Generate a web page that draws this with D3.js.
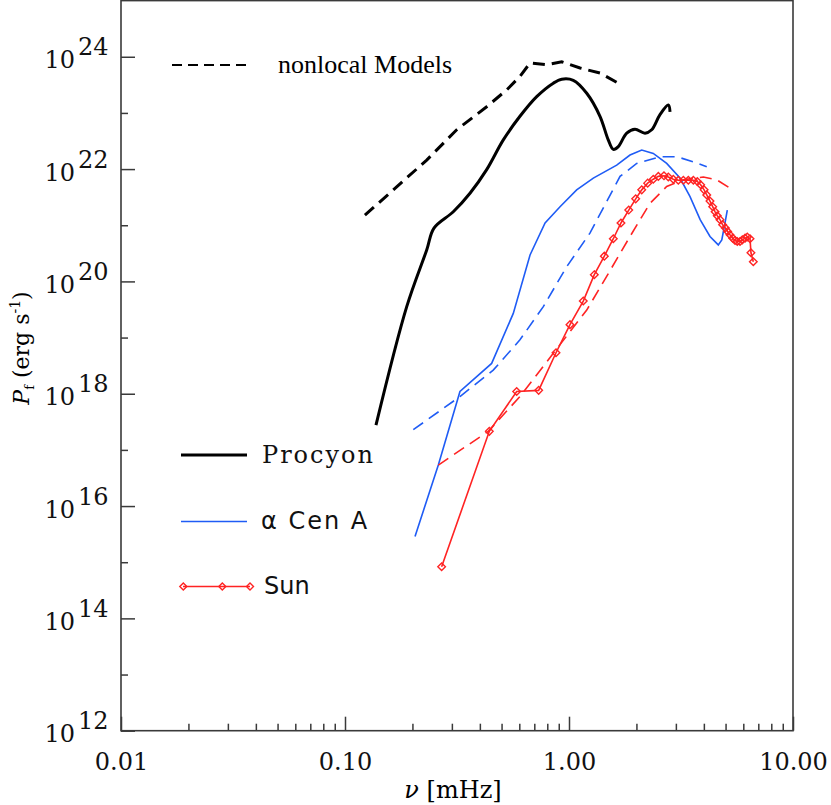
<!DOCTYPE html>
<html>
<head>
<meta charset="utf-8">
<script src="https://cdn.jsdelivr.net/npm/d3@7"></script>
<style>
  body { margin: 0; background: #fff; }
  svg { display: block; }
  .tick-lab { font-family: "DejaVu Serif", serif; font-size: 24px; fill: #111; }
  .leg-lab { font-size: 24px; fill: #111; }
</style>
</head>
<body>
<svg id="chart" width="831" height="805"></svg>
<script>
// ---- data, frequency in mHz, power as log10(erg/s) ----
const procyonNu   = [0.1375, 0.1886, 0.2316, 0.2496, 0.3044, 0.3614, 0.429, 0.509, 0.604, 0.7174, 0.851, 0.928, 1.045, 1.20, 1.375, 1.497, 1.577, 1.66, 1.81, 1.97, 2.184, 2.34, 2.548, 2.776, 2.825];
const procyonLogP = [17.44, 19.55, 20.56, 20.95, 21.24, 21.57, 21.99, 22.52, 22.94, 23.29, 23.53, 23.60, 23.58, 23.35, 22.94, 22.52, 22.35, 22.40, 22.64, 22.71, 22.64, 22.70, 22.97, 23.14, 23.02];

const procyonModNu   = [0.1227, 0.1643, 0.2316, 0.3152, 0.429, 0.527, 0.604, 0.670, 0.795, 0.928, 1.12, 1.375, 1.66];
const procyonModLogP = [21.18, 21.63, 22.16, 22.70, 23.11, 23.41, 23.65, 23.89, 23.86, 23.91, 23.80, 23.71, 23.53];

const cenNu   = [0.2054, 0.261, 0.326, 0.4515, 0.564, 0.670, 0.782, 0.912, 1.082, 1.284, 1.633, 1.872, 2.112, 2.378, 2.73, 3.13, 3.47, 3.85, 4.26, 4.64, 4.81, 4.97, 5.09];
const cenLogP = [15.46, 16.73, 18.04, 18.54, 19.43, 20.47, 21.04, 21.33, 21.63, 21.84, 22.07, 22.25, 22.34, 22.28, 22.10, 21.84, 21.51, 21.10, 20.80, 20.65, 20.74, 21.04, 21.27];

const cenModNu   = [0.2018, 0.326, 0.459, 0.604, 0.768, 0.976, 1.24, 1.69, 2.005, 2.55, 3.03, 3.59, 4.12];
const cenModLogP = [17.36, 17.95, 18.42, 18.96, 19.55, 20.26, 20.86, 21.87, 22.10, 22.22, 22.22, 22.13, 22.04];

const sunModNu   = [0.261, 0.436, 0.604, 0.851, 1.20, 1.473, 1.872, 2.30, 2.73, 3.24, 3.98, 4.56, 5.23];
const sunModLogP = [16.73, 17.33, 17.95, 18.72, 19.49, 20.09, 20.80, 21.39, 21.69, 21.81, 21.86, 21.81, 21.66];

const sunNu   = [0.270, 0.4408, 0.584, 0.732, 0.875, 1.01, 1.158, 1.297, 1.438, 1.577, 1.706, 1.848, 1.985, 2.112, 2.245, 2.378, 2.505, 2.655, 2.776, 2.922, 3.076, 3.24, 3.41, 3.59, 3.74, 3.87, 4.01, 4.12, 4.26, 4.38, 4.49, 4.59, 4.72, 4.85, 4.99, 5.11, 5.23, 5.38, 5.51, 5.64, 5.80, 5.94, 6.11, 6.25, 6.43, 6.49, 6.65];
const sunLogP = [14.92, 17.33, 18.04, 18.06, 18.73, 19.23, 19.65, 20.12, 20.45, 20.76, 21.04, 21.27, 21.47, 21.63, 21.75, 21.82, 21.87, 21.88, 21.86, 21.82, 21.80, 21.80, 21.80, 21.80, 21.78, 21.72, 21.63, 21.54, 21.43, 21.33, 21.24, 21.17, 21.10, 21.01, 20.95, 20.89, 20.83, 20.77, 20.73, 20.71, 20.71, 20.74, 20.77, 20.79, 20.76, 20.51, 20.35];

const xMajor = [0.01, 0.1, 1, 10];
const xMajorLabels = ['0.01', '0.10', '1.00', '10.00'];
const xMinor = [0.02, 0.03, 0.04, 0.05, 0.06, 0.07, 0.08, 0.09, 0.2, 0.3, 0.4, 0.5, 0.6, 0.7, 0.8, 0.9, 2, 3, 4, 5, 6, 7, 8, 9];
const yMajorExp = [12, 14, 16, 18, 20, 22, 24];
const yMinorExp = [13, 15, 17, 19, 21, 23];

const legendNames = ['Procyon', '\u03b1 Cen A', 'Sun'];

// ---- layout ----
const L = 121, R = 793, T = 0.6, B = 730.7;
const svg = d3.select('#chart');
const x = d3.scaleLog().domain([0.01, 10]).range([L, R]);
const y = d3.scaleLog().domain([1e12, 1e25]).range([B, T]);

const BLUE = '#1f5cf5', RED = '#ff2323';
const toPts = (nu, lp) => nu.map((v, i) => [v, Math.pow(10, lp[i])]);
const line = d3.line().x(d => x(d[0])).y(d => y(d[1]));

// axes (ticks point inward)
const axisCol = '#3a3a3a';
const gx = svg.append('g').attr('transform', `translate(0,${B})`);
gx.call(d3.axisBottom(x).tickValues(xMinor).tickSize(-7).tickSizeOuter(0).tickFormat(''));
const gx2 = svg.append('g').attr('transform', `translate(0,${B})`);
gx2.call(d3.axisBottom(x).tickValues(xMajor).tickSize(-14).tickSizeOuter(0).tickPadding(22)
  .tickFormat((d, i) => xMajorLabels[i]));
gx2.selectAll('text').attr('class', 'tick-lab').attr('dy', '0.35em').attr('y', 31);

const gy = svg.append('g').attr('transform', `translate(${L},0)`);
gy.call(d3.axisLeft(y).tickValues(yMinorExp.map(e => Math.pow(10, e))).tickSize(-7).tickSizeOuter(0).tickFormat(''));
const gy2 = svg.append('g').attr('transform', `translate(${L},0)`);
gy2.call(d3.axisLeft(y).tickValues(yMajorExp.map(e => Math.pow(10, e))).tickSize(-14).tickSizeOuter(0).tickFormat(''));
gy2.selectAll('.tick').each(function (d) {
  d3.select(this).append('text').attr('class', 'tick-lab')
    .attr('text-anchor', 'end').attr('x', -46).attr('y', 11).text('10');
  d3.select(this).append('text').attr('class', 'tick-lab')
    .attr('text-anchor', 'start').attr('x', -43).attr('y', -2)
    .text(Math.round(Math.log10(d)));
});
svg.selectAll('.domain').remove();
svg.selectAll('.tick line').attr('stroke', axisCol).attr('stroke-width', 1.5);

svg.append('rect').attr('x', L).attr('y', T).attr('width', R - L).attr('height', B - T)
  .attr('fill', 'none').attr('stroke', axisCol).attr('stroke-width', 1.6);

// axis titles
svg.append('text').attr('x', 453).attr('y', 798).attr('text-anchor', 'middle')
  .style('font-family', '"DejaVu Serif", serif').style('font-size', '24px')
  .html('<tspan font-style="italic">\u03bd</tspan> [mHz]');

const yl = svg.append('text').attr('transform', 'translate(29,348) rotate(-90)')
  .attr('text-anchor', 'middle')
  .style('font-family', '"DejaVu Serif", serif').style('font-size', '22px');
yl.append('tspan').attr('font-style', 'italic').text('P');
yl.append('tspan').attr('font-size', '13px').attr('dy', 5).text('f');
yl.append('tspan').attr('dy', -5).text(' (erg s');
yl.append('tspan').attr('font-size', '14px').attr('dy', -9).text('-1');
yl.append('tspan').attr('dy', 9).text(')');

// curves
const plot = svg.append('g');
plot.append('path').datum(toPts(procyonModNu, procyonModLogP)).attr('d', line)
  .attr('fill', 'none').attr('stroke', '#000').attr('stroke-width', 3).attr('stroke-dasharray', '12,7');
plot.append('path').datum(toPts(procyonNu, procyonLogP)).attr('d', line.curve(d3.curveCatmullRom))
  .attr('fill', 'none').attr('stroke', '#000').attr('stroke-width', 3).attr('stroke-linejoin', 'round');
line.curve(d3.curveLinear);
plot.append('path').datum(toPts(cenModNu, cenModLogP)).attr('d', line)
  .attr('fill', 'none').attr('stroke', BLUE).attr('stroke-width', 1.6).attr('stroke-dasharray', '12,7');
plot.append('path').datum(toPts(cenNu, cenLogP)).attr('d', line)
  .attr('fill', 'none').attr('stroke', BLUE).attr('stroke-width', 1.6);
plot.append('path').datum(toPts(sunModNu, sunModLogP)).attr('d', line)
  .attr('fill', 'none').attr('stroke', RED).attr('stroke-width', 1.6).attr('stroke-dasharray', '12,7');
const sunPts = toPts(sunNu, sunLogP);
plot.append('path').datum(sunPts).attr('d', line)
  .attr('fill', 'none').attr('stroke', RED).attr('stroke-width', 1.6);

const diamond = (cx, cy, r) => `M${cx},${cy - r}L${cx + r},${cy}L${cx},${cy + r}L${cx - r},${cy}Z`;
plot.selectAll('path.dia').data(sunPts).enter().append('path').attr('class', 'dia')
  .attr('d', d => diamond(x(d[0]), y(d[1]), 3.8))
  .attr('fill', 'none').attr('stroke', RED).attr('stroke-width', 1.4);

// legends
const lg = svg.append('g');
lg.append('line').attr('x1', 172).attr('x2', 252).attr('y1', 65).attr('y2', 65)
  .attr('stroke', '#000').attr('stroke-width', 2).attr('stroke-dasharray', '10,6');
lg.append('text').attr('x', 278).attr('y', 73)
  .style('font-family', '"Liberation Serif", serif').style('font-size', '26px').text('nonlocal Models');

lg.append('line').attr('x1', 181).attr('x2', 247).attr('y1', 455).attr('y2', 455)
  .attr('stroke', '#000').attr('stroke-width', 3);
lg.append('text').attr('class', 'leg-lab').attr('x', 262).attr('y', 463)
  .style('font-family', '"DejaVu Serif", serif').style('letter-spacing', '2px').text(legendNames[0]);

lg.append('line').attr('x1', 181).attr('x2', 247).attr('y1', 521.5).attr('y2', 521.5)
  .attr('stroke', BLUE).attr('stroke-width', 1.6);
lg.append('text').attr('class', 'leg-lab').attr('x', 261).attr('y', 529)
  .style('font-family', '"DejaVu Sans", sans-serif').style('letter-spacing', '2px').text(legendNames[1]);

lg.append('line').attr('x1', 183).attr('x2', 250).attr('y1', 586.5).attr('y2', 586.5)
  .attr('stroke', RED).attr('stroke-width', 1.6);
[183.3, 222.3, 250].forEach(cx => {
  lg.append('path').attr('d', diamond(cx, 586.5, 3.5)).attr('fill', 'none')
    .attr('stroke', RED).attr('stroke-width', 1.4);
});
lg.append('text').attr('class', 'leg-lab').attr('x', 264).attr('y', 594)
  .style('font-family', '"DejaVu Sans", sans-serif').text(legendNames[2]);
</script>
</body>
</html>
